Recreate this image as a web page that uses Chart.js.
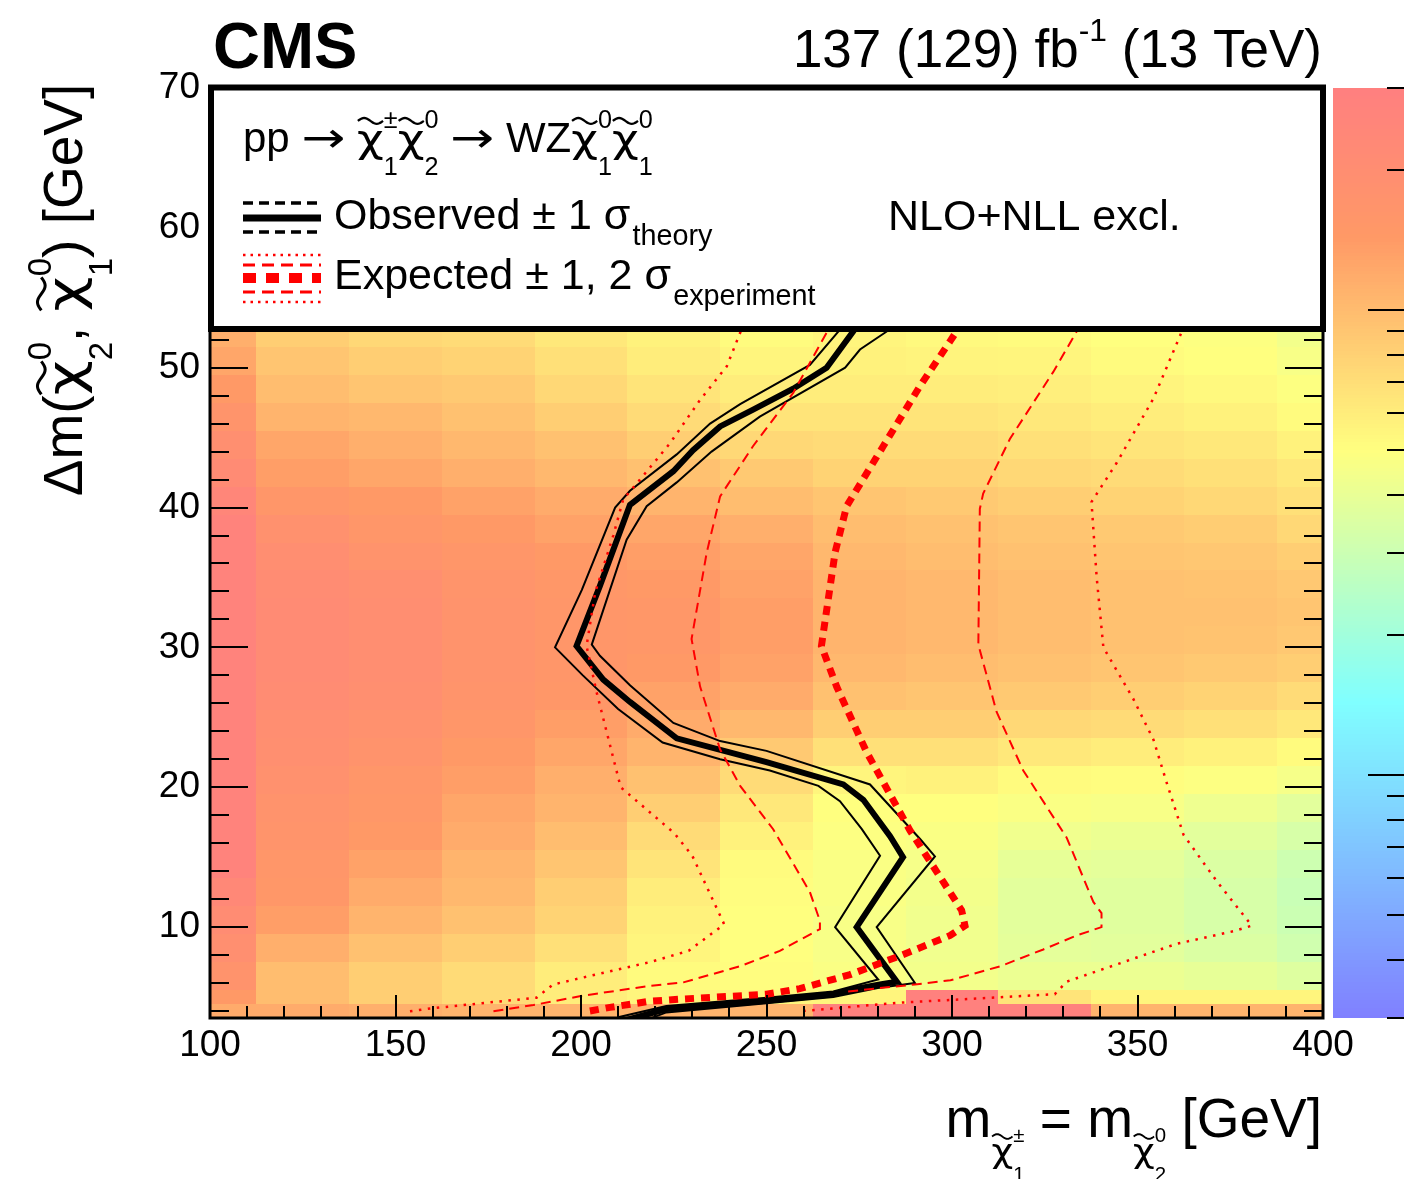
<!DOCTYPE html>
<html>
<head>
<meta charset="utf-8">
<title>WZ exclusion limits</title>
<script src="https://cdn.jsdelivr.net/npm/chart.js@4.4.0/dist/chart.umd.min.js"></script>
<style>
  html, body { margin: 0; padding: 0; background: #fff; }
  canvas { display: block; }
</style>
</head>
<body>
<canvas id="chart" width="1404" height="1179"></canvas>
<script>
const FONT = '"Liberation Sans", Arial, Helvetica, sans-serif';
const SYMBOL_FONT = '"DejaVu Sans", sans-serif';

// axis ticks
const xTickLabels = [100, 150, 200, 250, 300, 350, 400];
const yTickLabels = [10, 20, 30, 40, 50, 60, 70];

// mass bins (centres, 25 GeV wide) and mass-splitting bin edges
const massBins = [100, 125, 150, 175, 200, 225, 250, 275, 300, 325, 350, 375, 400];
const massBinWidth = 25;
const dmEdges = [3.5, 4.5, 5.5, 7.5, 9.5, 11.5, 13.5, 15.5, 17.5, 19.5, 21.5, 23.5, 25.5, 27.5,
                 29.5, 31.5, 33.5, 35.5, 37.5, 39.5, 41.5, 43.5, 45.5, 47.5, 49.5, 51.5, 53.5];

// upper limit on the cross section per mass bin, lowest dm bin first
const limitM100 = [11.9, 14.4, 17.3, 18.9, 20.8, 23.8, 27.4, 27.4, 27.4, 27.4, 27.4, 27.4, 27.4, 27.4, 27.4, 27.4, 27.4, 27.4, 27.4, 25.0, 21.7, 18.9, 16.5, 14.4, 12.5, 11.4];
const limitM125 = [11.9, 9.9, 9.9, 11.4, 13.7, 15.0, 15.7, 16.5, 17.3, 18.1, 18.9, 19.8, 20.8, 21.7, 21.7, 21.7, 20.8, 19.8, 18.1, 15.7, 13.7, 12.5, 10.9, 9.9, 9.1, 8.3];
const limitM150 = [11.4, 8.3, 8.3, 9.5, 10.9, 11.9, 13.1, 14.4, 15.0, 15.7, 17.3, 18.1, 18.9, 19.8, 19.8, 19.8, 18.9, 17.3, 15.7, 14.4, 12.5, 11.4, 10.4, 9.1, 8.3, 7.5];
const limitM175 = [10.9, 7.2, 7.2, 8.3, 9.5, 10.4, 10.9, 11.9, 12.5, 13.7, 14.4, 15.7, 16.5, 17.3, 17.3, 17.3, 16.5, 15.7, 14.4, 13.1, 11.4, 10.4, 9.5, 8.7, 7.9, 7.2];
const limitM200 = [10.9, 6.0, 6.0, 6.9, 7.9, 8.3, 9.1, 9.9, 10.9, 11.4, 12.5, 13.7, 15.0, 15.7, 15.7, 15.7, 15.0, 14.4, 13.1, 11.9, 10.4, 9.5, 8.3, 7.5, 6.9, 6.3];
const limitM225 = [10.9, 5.5, 5.2, 5.5, 5.7, 6.0, 6.6, 7.2, 8.3, 9.5, 10.9, 11.9, 13.1, 14.4, 15.0, 15.0, 14.4, 13.7, 12.5, 10.9, 9.5, 8.3, 7.2, 6.6, 6.0, 5.7];
const limitM250 = [10.9, 5.5, 5.1, 5.0, 5.0, 5.1, 5.2, 5.7, 6.3, 7.2, 8.7, 10.4, 11.9, 13.1, 13.7, 13.7, 13.1, 12.5, 11.4, 9.9, 8.7, 7.5, 6.6, 6.0, 5.5, 5.2];
const limitM275 = [28.6, 5.5, 4.75, 4.65, 4.65, 4.75, 4.75, 4.87, 5.0, 5.5, 6.9, 8.3, 9.5, 10.4, 10.9, 10.9, 10.9, 10.4, 9.9, 9.1, 7.9, 7.2, 6.6, 6.0, 5.7, 5.5];
const limitM300 = [28.6, 28.6, 4.44, 4.34, 4.34, 4.44, 4.54, 4.75, 5.0, 5.7, 6.9, 8.3, 9.1, 9.9, 10.4, 10.4, 10.4, 9.9, 9.5, 8.7, 7.9, 7.2, 6.6, 6.0, 5.6, 5.3];
const limitM325 = [28.6, 6.6, 4.14, 3.86, 3.78, 3.78, 3.95, 4.34, 4.75, 5.2, 6.3, 7.5, 8.7, 9.5, 9.9, 9.9, 9.9, 9.5, 9.1, 8.3, 7.5, 6.9, 6.3, 5.85, 5.5, 5.2];
const limitM350 = [10.9, 5.5, 4.14, 3.78, 3.69, 3.69, 3.86, 4.14, 4.65, 5.1, 6.0, 7.2, 8.3, 9.1, 9.5, 9.5, 9.5, 9.1, 8.7, 7.9, 7.2, 6.6, 6.0, 5.6, 5.2, 5.0];
const limitM375 = [10.9, 5.5, 3.95, 3.52, 3.37, 3.37, 3.52, 3.78, 4.24, 4.87, 5.7, 6.9, 7.9, 8.7, 9.3, 9.5, 9.3, 8.9, 8.4, 7.5, 6.9, 6.3, 5.7, 5.3, 5.0, 4.9];
const limitM400 = [10.9, 5.5, 3.61, 3.14, 3.0, 2.93, 3.07, 3.37, 3.78, 4.54, 5.2, 6.3, 7.2, 8.3, 8.8, 9.1, 8.8, 8.3, 7.5, 6.9, 6.3, 5.7, 5.2, 4.9, 4.65, 4.44];
const limitColumns = [limitM100, limitM125, limitM150, limitM175, limitM200, limitM225, limitM250,
                      limitM275, limitM300, limitM325, limitM350, limitM375, limitM400];

// colour axis (log scale)
const zMin = 0.3, zMax = 30;
const zTickValues = [0.3, 0.4, 0.5, 0.6, 0.7, 0.8, 0.9, 1, 2, 3, 4, 5, 6, 7, 8, 9, 10, 20, 30];
const zMajorTicks = [1, 10];

// exclusion contours, [mass, dm] pairs
const observed = [[210, 3.2], [223.1, 4.14], [250, 4.74], [268, 5.2], [274.3, 5.6], [280.6, 5.9], [285.1, 6.1],
  [274.3, 10.0], [286.8, 15.0], [283.3, 16.5], [276.1, 19.1], [270.7, 20.2], [250, 21.8], [225.8, 23.5],
  [213.2, 26.1], [206, 27.7], [198.8, 30.1], [205.1, 34.4], [213.2, 40.2], [224.9, 42.6], [230.2, 44.1],
  [237.5, 45.8], [246.4, 47.0], [257.2, 48.5], [266.2, 50.0], [273.4, 52.6], [282, 56]];
const observedUp = [[210, 3.55], [223, 4.35], [250, 4.95], [268, 5.4], [280.1, 6.25], [268.5, 10.0], [280.6, 15.1],
  [275.7, 17.0], [269.8, 19.0], [264.0, 20.1], [250.9, 21.2], [237.5, 22.0], [222, 23.2], [210, 25.6],
  [200.5, 28.0], [193.0, 30.0], [200.2, 34.1], [209.2, 40.0], [213.2, 41.2], [225.8, 43.8], [234.8, 46.0],
  [242.9, 47.4], [261.7, 50.2], [269.4, 52.6], [279, 56]];
const observedDown = [[214, 3.0], [223, 3.9], [250, 4.55], [268, 5.0], [280, 5.65], [290.0, 6.0], [279.7, 10.0],
  [295.4, 15.05], [291.4, 16.3], [277.9, 20.2], [250, 22.6], [237.5, 23.3], [224.9, 24.6], [213.2, 27.3],
  [205.1, 29.4], [202.9, 30.2], [212.3, 37.7], [217.7, 40.1], [225.8, 41.8], [235.2, 44.0], [248.2, 46.5],
  [271.2, 50.0], [275.2, 51.3], [281.9, 52.5], [296, 55]];
const expected = [[202.4, 4.0], [207.8, 4.26], [218.6, 4.7], [227.6, 4.86], [250, 5.2], [259, 5.6], [272.5, 6.6],
  [286, 7.95], [299.5, 9.4], [303.5, 10.1], [302.6, 11.2], [288.7, 16.9], [277.0, 22.5], [268.9, 27.2],
  [264.8, 30.1], [268.5, 36.8], [271.6, 40.1], [281.5, 44.4], [291.4, 48.7], [299.5, 51.9], [309.8, 56]];
const expectedUp1 = [[176.4, 3.98], [187.2, 4.43], [200.6, 5.1], [218.6, 5.8], [227.6, 6.05], [242.9, 7.2],
  [253.6, 8.3], [264.4, 9.86], [264.4, 10.45], [261.7, 12.5], [251.8, 17.0], [242.9, 20.1], [237.5, 22.7],
  [232.1, 27.2], [229.8, 30.6], [233.9, 36.8], [237.5, 40.8], [246.4, 44.4], [257.2, 48.2], [266.2, 52.5], [273.5, 56]];
const expectedDown1 = [[272, 5.4], [290, 5.9], [299.6, 6.2], [313.0, 7.2], [324.6, 8.4], [333.6, 9.4], [340.3, 10.0],
  [340.3, 11.0], [338.1, 11.8], [330.9, 16.4], [319.2, 21.2], [312.0, 25.4], [307.1, 30.2], [307.5, 39.9],
  [308.4, 41.0], [315.6, 44.9], [327.3, 49.7], [333.2, 52.4], [341, 56]];
const expectedUp2 = [[153.9, 3.98], [160, 4.2], [188, 4.95], [192.5, 5.9], [218.6, 7.5], [229.0, 8.3], [238.6, 10.2],
  [230.0, 15.1], [225.2, 16.7], [210.7, 20.0], [204.2, 26.8], [201.5, 30.1], [203.8, 33.9], [208.7, 38.0],
  [211.4, 40.6], [215.9, 42.0], [224.0, 44.6], [232.1, 47.7], [239.3, 50.1], [242.9, 52.5], [248, 56]];
const expectedDown2 = [[259.9, 4.0], [286, 4.6], [312.9, 4.98], [327.7, 5.2], [330.9, 6.1], [360.5, 8.8],
  [375.8, 9.7], [380.8, 10.1], [371.3, 13.3], [362.4, 16.6], [357.9, 20.3], [354.3, 23.4], [348.9, 26.3],
  [340.8, 30.0], [339.0, 35.0], [337.6, 40.4], [344.4, 43.2], [354.3, 47.8], [361.5, 52.3], [367, 56]];

// pastel rainbow palette
const palStops = [0.00, 0.34, 0.61, 0.84, 1.00];
const palRed   = [0.50, 0.50, 1.00, 1.00, 1.00];
const palGreen = [0.50, 1.00, 1.00, 0.60, 0.50];
const palBlue  = [1.00, 1.00, 0.50, 0.40, 0.50];

function paletteColor(f) {
  f = Math.min(1, Math.max(0, f));
  let i = 0;
  while (i < palStops.length - 2 && f > palStops[i + 1]) i++;
  const t = (f - palStops[i]) / (palStops[i + 1] - palStops[i]);
  const c = arr => Math.round(255 * (arr[i] + t * (arr[i + 1] - arr[i])));
  return `rgb(${c(palRed)},${c(palGreen)},${c(palBlue)})`;
}

function zFraction(v) {
  return (Math.log10(v) - Math.log10(zMin)) / (Math.log10(zMax) - Math.log10(zMin));
}

function fontOf(size, bold, family) {
  return (bold ? 'bold ' : '') + size + 'px ' + (family || FONT);
}

// --- small rich-text helper: strings, symbols, tilde-chi, sub/superscripts ---
const ARROW = { text: '\u2192', family: SYMBOL_FONT, scale: 1.0, stretch: 1.25 };
const CHI = { chi: true };
const CHI_STRETCH = 1.2;

function partWidth(ctx, p, size) {
  if (typeof p === 'string') { ctx.font = fontOf(size); return ctx.measureText(p).width; }
  if (p.text) { ctx.font = fontOf(size * (p.scale || 1), false, p.family); return ctx.measureText(p.text).width * (p.stretch || 1); }
  if (p.chi) { ctx.font = fontOf(size * 0.92, false, SYMBOL_FONT); return ctx.measureText('\u03c7').width * CHI_STRETCH; }
  if (p.group) return richWidth(ctx, p.group, size * p.scale);
  const s = size * (p.scale || 0.6);
  ctx.font = fontOf(s);
  const a = p.sup ? ctx.measureText(p.sup).width : 0;
  const b = p.sub ? ctx.measureText(p.sub).width : 0;
  return Math.max(a, b) + (p.pre || 0) * size;
}

function richWidth(ctx, parts, size) {
  return parts.reduce((w, p) => w + partWidth(ctx, p, size), 0);
}

function drawTilde(ctx, cx, cy, w, size) {
  ctx.save();
  ctx.lineWidth = Math.max(1.2, size * 0.055);
  ctx.beginPath();
  for (let k = 0; k <= 20; k++) {
    const t = k / 20;
    const px = cx - w / 2 + t * w;
    const py = cy - Math.sin(t * 2 * Math.PI) * size * 0.07;
    if (k === 0) ctx.moveTo(px, py); else ctx.lineTo(px, py);
  }
  ctx.stroke();
  ctx.restore();
}

function fillStretched(ctx, text, x, y, stretch) {
  ctx.save();
  ctx.translate(x, y);
  ctx.scale(stretch, 1);
  ctx.fillText(text, 0, 0);
  ctx.restore();
}

function drawRich(ctx, parts, x, y, size) {
  for (const p of parts) {
    const w = partWidth(ctx, p, size);
    if (typeof p === 'string') {
      ctx.font = fontOf(size);
      ctx.fillText(p, x, y);
    } else if (p.text) {
      ctx.font = fontOf(size * (p.scale || 1), false, p.family);
      fillStretched(ctx, p.text, x, y, p.stretch || 1);
    } else if (p.chi) {
      ctx.font = fontOf(size * 0.92, false, SYMBOL_FONT);
      fillStretched(ctx, '\u03c7', x, y, CHI_STRETCH);
      drawTilde(ctx, x + w / 2, y - 0.74 * size, 0.6 * size, size);
    } else if (p.group) {
      drawRich(ctx, p.group, x, y + (p.dy || 0) * size, size * p.scale);
    } else {
      const s = size * (p.scale || 0.6);
      const sx = x + (p.pre || 0) * size;
      ctx.font = fontOf(s);
      if (p.sup) ctx.fillText(p.sup, sx, y - (p.up ?? 0.57) * size);
      if (p.sub) ctx.fillText(p.sub, sx, y + (p.down ?? 0.55) * size);
    }
    x += w;
  }
}

const chiScripts = (sup, sub) => ({ sup, sub, scale: 0.6, up: 0.57, down: 0.55 });

// --- heat map of the limits, drawn through the chart scales ---
const heatmapPlugin = {
  id: 'limitHeatmap',
  beforeDatasetsDraw(chart) {
    const { ctx, chartArea: a, scales: { x, y } } = chart;
    ctx.save();
    ctx.beginPath();
    ctx.rect(a.left, a.top, a.right - a.left, a.bottom - a.top);
    ctx.clip();
    massBins.forEach((m, i) => {
      const x0 = Math.round(x.getPixelForValue(m - massBinWidth / 2));
      const x1 = Math.round(x.getPixelForValue(m + massBinWidth / 2));
      limitColumns[i].forEach((v, j) => {
        const y0 = Math.round(y.getPixelForValue(dmEdges[j + 1]));
        const y1 = Math.round(y.getPixelForValue(dmEdges[j]));
        ctx.fillStyle = paletteColor(zFraction(v));
        ctx.fillRect(x0, y0, x1 - x0, y1 - y0);
      });
    });
    ctx.restore();
  }
};

// --- frame, inward ticks, legend box, colour bar and titles ---
const decorPlugin = {
  id: 'decor',
  afterDatasetsDraw(chart) {
    const { ctx, chartArea: a, scales: { x, y } } = chart;
    ctx.save();
    ctx.strokeStyle = '#000';
    ctx.lineWidth = 2;
    ctx.beginPath();
    for (let v = 100; v <= 400; v += 10) {
      const px = Math.round(x.getPixelForValue(v));
      const len = v % 50 === 0 ? 23 : 12;
      ctx.moveTo(px, a.bottom); ctx.lineTo(px, a.bottom - len);
      ctx.moveTo(px, a.top); ctx.lineTo(px, a.top + len);
    }
    for (let v = 4; v <= 70; v += 2) {
      const py = Math.round(y.getPixelForValue(v));
      const len = v % 10 === 0 ? 38 : 19;
      ctx.moveTo(a.left, py); ctx.lineTo(a.left + len, py);
      ctx.moveTo(a.right, py); ctx.lineTo(a.right - len, py);
    }
    ctx.stroke();
    ctx.lineWidth = 3;
    ctx.strokeRect(a.left, a.top, a.right - a.left, a.bottom - a.top);

    // legend box
    const bx = a.left + 1, by = a.top - 0.5, bw = a.right - a.left - 1, bh = 241.5;
    ctx.fillStyle = '#fff';
    ctx.fillRect(bx, by, bw, bh);
    ctx.lineWidth = 6;
    ctx.strokeRect(bx, by, bw, bh);

    const sample = (yy, color, width, dash) => {
      ctx.save();
      ctx.strokeStyle = color;
      ctx.lineWidth = width;
      ctx.setLineDash(dash);
      ctx.beginPath();
      ctx.moveTo(a.left + 33, yy);
      ctx.lineTo(a.left + 111, yy);
      ctx.stroke();
      ctx.restore();
    };
    sample(203, '#000', 3.5, [10, 6]);
    sample(232, '#000', 3.5, [10, 6]);
    sample(218, '#000', 7, []);
    sample(255, '#f00', 2.5, [2.5, 5]);
    sample(302, '#f00', 2.5, [2.5, 5]);
    sample(265, '#f00', 3, [12, 7]);
    sample(292, '#f00', 3, [12, 7]);
    sample(278, '#f00', 10, [13, 10]);

    ctx.fillStyle = '#000';
    ctx.textAlign = 'left';
    ctx.textBaseline = 'alphabetic';
    drawRich(ctx, ['pp ', ARROW, ' ', CHI, chiScripts('\u00b1', '1'), CHI, chiScripts('0', '2'),
      ' ', ARROW, ' WZ', CHI, chiScripts('0', '1'), CHI, chiScripts('0', '1')], a.left + 33, 152, 42);
    drawRich(ctx, ['Observed \u00b1 1 \u03c3', { sub: 'theory', scale: 0.67, down: 0.37, pre: 0.05 }], a.left + 124, 229, 43);
    drawRich(ctx, ['Expected \u00b1 1, 2 \u03c3', { sub: 'experiment', scale: 0.67, down: 0.37, pre: 0.05 }], a.left + 124, 289, 43);
    ctx.font = fontOf(43);
    ctx.fillText('NLO+NLL excl.', 888, 230);
    ctx.restore();
  },
  afterDraw(chart) {
    const { ctx, chartArea: a } = chart;
    ctx.save();

    // colour bar
    const left = a.right + 10, right = chart.width, top = a.top, bottom = a.bottom;
    const n = 255;
    for (let k = 0; k < n; k++) {
      const yA = bottom - (k + 1) / n * (bottom - top);
      const yB = bottom - k / n * (bottom - top);
      ctx.fillStyle = paletteColor((k + 0.5) / n);
      ctx.fillRect(left, Math.floor(yA), right - left, Math.ceil(yB) - Math.floor(yA));
    }
    ctx.strokeStyle = '#000';
    ctx.lineWidth = 2;
    ctx.beginPath();
    zTickValues.forEach(v => {
      const py = Math.round(bottom - zFraction(v) * (bottom - top));
      const len = zMajorTicks.includes(v) ? 36 : 17;
      ctx.moveTo(right, py);
      ctx.lineTo(right - len, py);
    });
    ctx.stroke();

    ctx.fillStyle = '#000';
    ctx.textBaseline = 'alphabetic';
    ctx.textAlign = 'left';
    ctx.font = fontOf(65, true);
    ctx.fillText('CMS', 213, 68);

    const lumi = ['137 (129) fb', { sup: '-1', scale: 0.6, up: 0.5 }, ' (13 TeV)'];
    drawRich(ctx, lumi, 1322 - richWidth(ctx, lumi, 53), 67, 53);

    const xTitle = ['m', { group: [CHI, chiScripts('\u00b1', '1')], scale: 0.62, dy: 0.45 },
      ' = m', { group: [CHI, chiScripts('0', '2')], scale: 0.62, dy: 0.45 }, ' [GeV]'];
    drawRich(ctx, xTitle, 1322 - richWidth(ctx, xTitle, 55), 1137, 55);

    const yTitle = ['\u0394m(', CHI, chiScripts('0', '2'), ', ', CHI, chiScripts('0', '1'), ') [GeV]'];
    const yw = richWidth(ctx, yTitle, 55);
    ctx.translate(82, 290 + yw / 2);
    ctx.rotate(-Math.PI / 2);
    drawRich(ctx, yTitle, 0, 0, 55);
    ctx.restore();
  }
};

const toPoints = pts => pts.map(([m, d]) => ({ x: m, y: d }));
const contour = (label, pts, color, width, dash, order) => ({
  label, data: toPoints(pts), showLine: true, pointRadius: 0, borderColor: color,
  borderWidth: width, borderDash: dash, borderCapStyle: 'butt', fill: false, tension: 0, clip: 0, order
});

new Chart(document.getElementById('chart'), {
  type: 'scatter',
  data: {
    datasets: [
      contour('Expected', expected, '#ff0000', 7, [9, 7], 0),
      contour('Expected +1 sigma', expectedUp1, '#ff0000', 2, [10, 6], 1),
      contour('Expected -1 sigma', expectedDown1, '#ff0000', 2, [10, 6], 1),
      contour('Expected +2 sigma', expectedUp2, '#ff0000', 2.5, [2.5, 6.5], 1),
      contour('Expected -2 sigma', expectedDown2, '#ff0000', 2.5, [2.5, 6.5], 1),
      contour('Observed', observed, '#000000', 6, [], 2),
      contour('Observed +1 sigma', observedUp, '#000000', 2, [], 2),
      contour('Observed -1 sigma', observedDown, '#000000', 2, [], 2)
    ]
  },
  options: {
    responsive: false,
    animation: false,
    devicePixelRatio: 1,
    layout: { padding: { top: 88, right: 81, left: 0, bottom: 0 } },
    scales: {
      x: {
        type: 'linear', min: 100, max: 400,
        afterFit(s) { s.height = 161; },
        afterBuildTicks(s) { s.ticks = xTickLabels.map(v => ({ value: v })); },
        grid: { display: false, drawTicks: false },
        border: { display: false },
        ticks: { autoSkip: false, maxRotation: 0, padding: 6, color: '#000', font: { family: FONT, size: 37 } }
      },
      y: {
        type: 'linear', min: 3.5, max: 70,
        afterFit(s) { s.width = 210; },
        afterBuildTicks(s) { s.ticks = yTickLabels.map(v => ({ value: v })); },
        grid: { display: false, drawTicks: false },
        border: { display: false },
        ticks: { autoSkip: false, padding: 10, color: '#000', font: { family: FONT, size: 37 } }
      }
    },
    plugins: { legend: { display: false }, tooltip: { enabled: false } }
  },
  plugins: [heatmapPlugin, decorPlugin]
});
</script>
</body>
</html>
